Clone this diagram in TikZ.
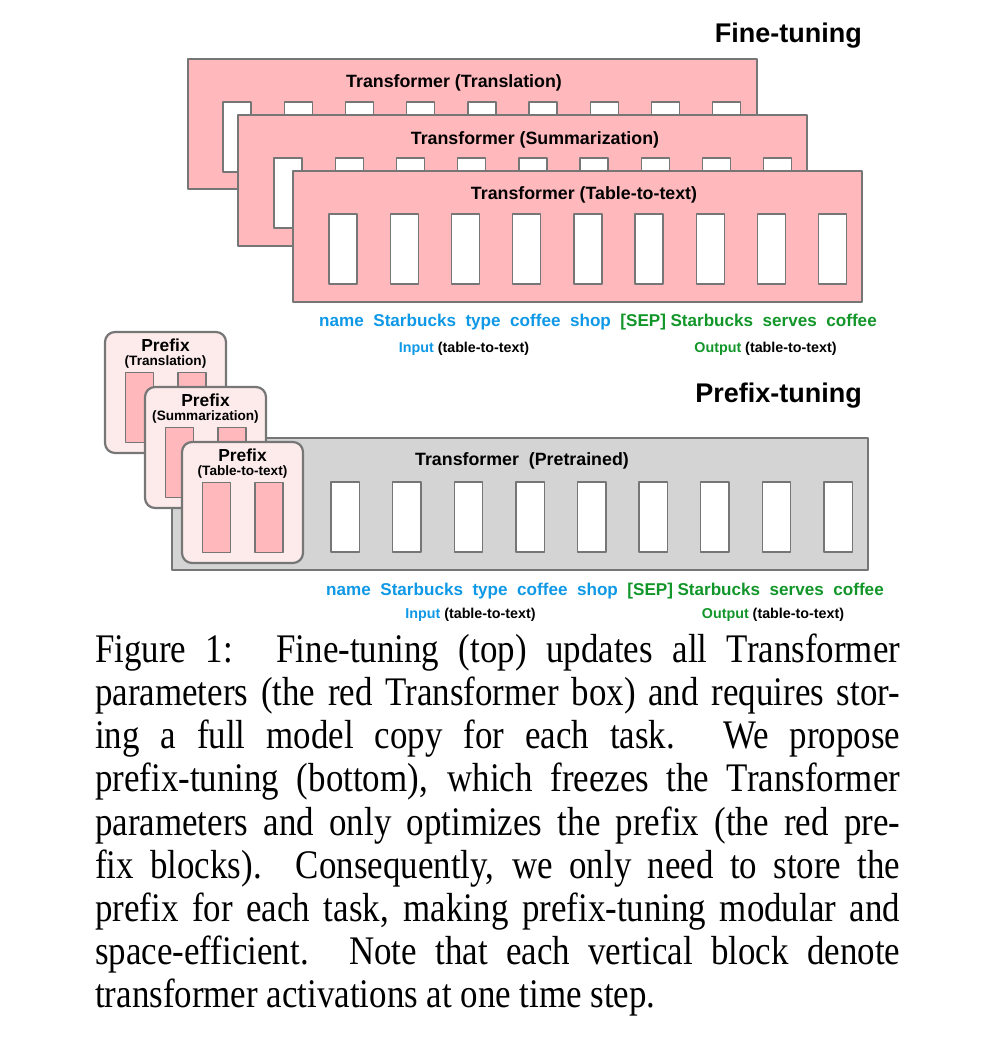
\documentclass[tikz,border=0pt]{standalone}
\usepackage{fontspec}
\setmainfont{Liberation Serif}
\newfontfamily\diagfont{Liberation Sans}
\newfontfamily\capfont[FakeStretch=0.86]{Liberation Serif}
\definecolor{boxpink}{RGB}{255,185,189}
\definecolor{edgegray}{RGB}{118,118,118}
\definecolor{prefixbg}{RGB}{253,235,235}
\definecolor{frozengray}{RGB}{212,212,212}
\definecolor{inblue}{RGB}{14,152,230}
\definecolor{outgreen}{RGB}{18,150,42}
\newcommand{\dfont}[1]{\diagfont\bfseries\fontsize{#1}{#1}\selectfont}
\newcommand{\tg}{\hspace{9.5pt}}

\begin{document}
\begin{tikzpicture}[x=1pt, y=-1pt, line join=round,
  tfbox/.style={draw=edgegray, fill=boxpink, line width=1.8},
  frozen/.style={draw=edgegray, fill=frozengray, line width=1.8},
  cell/.style={draw=edgegray, fill=white, line width=1.4},
  pfxbox/.style={draw=edgegray, fill=prefixbg, line width=2.2, rounded corners=10},
  pfxcell/.style={draw=edgegray, fill=boxpink, line width=1.4},
  title/.style={inner sep=0, font=\dfont{17.8}},
  heading/.style={inner sep=0, font=\dfont{27}},
  tok/.style={inner sep=0, font=\dfont{17.1}},
  lab/.style={inner sep=0, font=\dfont{14.3}},
  pfxlab/.style={inner sep=0, anchor=base, font=\dfont{17.4}},
  pfxsub/.style={inner sep=0, anchor=base, font=\dfont{13.6}},
  caption/.style={inner sep=0, text width=805pt, align=justify, font=\capfont\fontsize{40.6}{43.2}\selectfont}]
  \useasboundingbox (0,0) rectangle (1002,1050);

  % fine-tuning: one full transformer per task
  \node[heading, anchor=base east] (hfine) at (862,42) {Fine-tuning};
  \draw[tfbox] (188,59) rectangle ++(569,130);
  \foreach \i in {0,...,8} \draw[cell] ({223+\i*61.2},102) rectangle ++(28,70);
  \node[title] (ttrans) at (454,83) {Transformer (Translation)};
  \draw[tfbox] (238,115) rectangle ++(569,131);
  \foreach \i in {0,...,8} \draw[cell] ({274+\i*61.2},158) rectangle ++(28,70);
  \node[title] (tsumm) at (535,140) {Transformer (Summarization)};
  \draw[tfbox] (293,171) rectangle ++(569,131);
  \foreach \i in {0,...,8} \draw[cell] ({329+\i*61.2},214) rectangle ++(28,70);
  \node[title] (ttable) at (584,195) {Transformer (Table-to-text)};

  \node[tok, anchor=west] (tokft) at (319,322) {\textcolor{inblue}{name\tg Starbucks\tg type\tg coffee\tg shop}\tg\textcolor{outgreen}{[SEP]\hspace{4.5pt}Starbucks\tg serves\tg coffee}};
  \node[lab] (inft) at (464,349) {\textcolor{inblue}{Input} (table-to-text)};
  \node[lab] (outft) at (765.5,349) {\textcolor{outgreen}{Output} (table-to-text)};

  % prefix-tuning: frozen transformer + small prefix per task
  \node[heading, anchor=base east] (hprefix) at (862,402) {Prefix-tuning};
  \draw[frozen] (172,438) rectangle (868,570);
  \foreach \i in {0,...,8} \draw[cell] ({331+\i*61.6},482) rectangle ++(28.5,70);
  \node[title] (tpre) at (522,461) {Transformer\ \ (Pretrained)};

  \foreach \px/\py/\task [count=\k] in {105/332/Translation, 145/387/Summarization, 182/442/Table-to-text}{
    \draw[pfxbox] (\px,\py) rectangle ++(121,121);
    \draw[pfxcell] ({\px+20.5},{\py+40.5}) rectangle ++(28,70);
    \draw[pfxcell] ({\px+73},{\py+40.5}) rectangle ++(28,70);
    \node[pfxlab] (pfx\k) at ({\px+60.5},{\py+19.5}) {Prefix};
    \node[pfxsub] (pfxtask\k) at ({\px+60.5},{\py+33.5}) {(\task)};
  }

  \node[tok, anchor=west] (tokpt) at (326,591) {\textcolor{inblue}{name\tg Starbucks\tg type\tg coffee\tg shop}\tg\textcolor{outgreen}{[SEP]\hspace{4.5pt}Starbucks\tg serves\tg coffee}};
  \node[lab] (inpt) at (470.5,615) {\textcolor{inblue}{Input} (table-to-text)};
  \node[lab] (outpt) at (773,615) {\textcolor{outgreen}{Output} (table-to-text)};

  % caption
  \node[caption, anchor=north west] (capt) at (95,631.8) {\tolerance=10000\strut Figure 1:\hspace{0.25em} Fine-tuning (top) updates all Transformer\linebreak
    parameters (the red Transformer box) and requires stor-\linebreak
    ing a full model copy for each task.  We propose\linebreak
    prefix-tuning (bottom), which freezes the Transformer\linebreak
    parameters and only optimizes the prefix (the red pre-\linebreak
    fix blocks).  Consequently, we only need to store the\linebreak
    prefix for each task, making prefix-tuning modular and\linebreak
    space-efficient.  Note that each vertical block denote\linebreak
    transformer activations at one time step.};
\end{tikzpicture}
\end{document}
